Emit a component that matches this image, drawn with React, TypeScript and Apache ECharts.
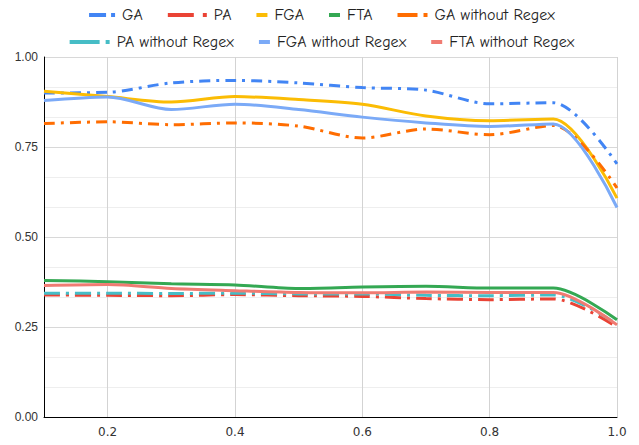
import React, { useEffect, useRef } from 'react';
import * as echarts from 'echarts';

const xValues = [0.1, 0.2, 0.3, 0.4, 0.5, 0.6, 0.7, 0.8, 0.9, 1.0];

const seriesNames = [
  'GA',
  'PA',
  'FGA',
  'FTA',
  'GA without Regex',
  'PA without Regex',
  'FGA without Regex',
  'FTA without Regex',
];

const gaValues = [0.9, 0.902, 0.928, 0.935, 0.928, 0.915, 0.908, 0.87, 0.873, 0.703];
const paValues = [0.339, 0.338, 0.337, 0.34, 0.337, 0.335, 0.329, 0.326, 0.328, 0.25];
const fgaValues = [0.905, 0.89, 0.875, 0.89, 0.882, 0.869, 0.836, 0.823, 0.828, 0.608];
const ftaValues = [0.379, 0.376, 0.37, 0.367, 0.357, 0.361, 0.363, 0.358, 0.358, 0.27];
const gaNoRegexValues = [0.815, 0.82, 0.812, 0.817, 0.808, 0.775, 0.8, 0.784, 0.81, 0.636];
const paNoRegexValues = [0.344, 0.344, 0.343, 0.344, 0.342, 0.342, 0.338, 0.337, 0.339, 0.258];
const fgaNoRegexValues = [0.879, 0.889, 0.854, 0.869, 0.854, 0.833, 0.817, 0.807, 0.814, 0.582];
const ftaNoRegexValues = [0.365, 0.368, 0.357, 0.351, 0.346, 0.345, 0.347, 0.346, 0.346, 0.256];

const allValues = [
  gaValues,
  paValues,
  fgaValues,
  ftaValues,
  gaNoRegexValues,
  paNoRegexValues,
  fgaNoRegexValues,
  ftaNoRegexValues,
];

// styles
const colors = ['#4285F4', '#EA4335', '#FBBC04', '#34A853', '#FF6D01', '#46BDC6', '#7BAAF7', '#F07B72'];
const dashes: (number[] | null)[] = [
  [11, 6, 3, 6],
  [16, 6, 3, 6],
  null,
  null,
  [11, 6, 3, 6],
  [16, 6, 3, 6],
  null,
  null,
];
// legend icon dims: [dash, gap, dot]
const legendIcons: [number, number, number][] = [
  [17, 5, 4],
  [26, 9, 4],
  [11, 0, 0],
  [11, 0, 0],
  [20, 6, 4],
  [30, 6, 4],
  [11, 0, 0],
  [11, 0, 0],
];

const LEGEND_FONT = "'Comic Sans MS', 'Comic Neue', 'Noto Sans', sans-serif";

export default function App() {
  const ref = useRef<HTMLDivElement>(null);

  useEffect(() => {
    if (!ref.current) return;
    const chart = echarts.init(ref.current, null, { renderer: 'svg' });

    const rich: Record<string, any> = {
      tx: { width: 7, height: 4 },
    };
    legendIcons.forEach((ic, i) => {
      rich['d' + i] = { width: ic[0], height: 4, backgroundColor: colors[i] };
      rich['g' + i] = { width: ic[1], height: 4 };
      rich['p' + i] = { width: ic[2], height: 4, backgroundColor: colors[i] };
    });

    const fmt = (name: string) => {
      const i = seriesNames.indexOf(name);
      const ic = legendIcons[i];
      let s = '{d' + i + '|}';
      if (ic[2] > 0) s += '{g' + i + '|}{p' + i + '|}';
      return s + '{tx|}' + name;
    };

    const legendCommon = {
      left: 'center',
      icon: 'none',
      itemWidth: 0,
      itemHeight: 14,
      itemGap: 20,
      formatter: fmt,
      textStyle: {
        fontFamily: LEGEND_FONT,
        fontSize: 16,
        color: '#222',
        rich,
      },
    };

    const series = seriesNames.map((name, i) => ({
      name,
      type: 'line',
      data: xValues.map((x, j) => [x, allValues[i][j]]),
      smooth: 0.3,
      showSymbol: false,
      symbol: 'none',
      lineStyle: {
        color: colors[i],
        width: 3,
        type: dashes[i] ? dashes[i] : 'solid',
      },
      itemStyle: { color: colors[i] },
      emphasis: { disabled: true },
    }));

    chart.setOption({
      animation: false,
      backgroundColor: '#ffffff',
      legend: [
        { ...legendCommon, data: seriesNames.slice(0, 5), top: 2 },
        { ...legendCommon, data: seriesNames.slice(5), top: 29 },
      ],
      grid: { left: 44, right: 22, top: 57, bottom: 28, containLabel: false },
      xAxis: {
        type: 'value',
        min: 0.1,
        max: 1.0,
        splitNumber: 5,
        axisLine: { show: true, lineStyle: { color: '#000', width: 1 } },
        axisTick: { show: false },
        axisLabel: {
          showMinLabel: false,
          margin: 9,
          fontSize: 12,
          fontFamily: "'DejaVu Sans', sans-serif",
          color: '#333',
          formatter: (v: number) => v.toFixed(1),
        },
        splitLine: { show: true, lineStyle: { color: '#d3d3d3', width: 1 } },
      },
      yAxis: {
        type: 'value',
        min: 0,
        max: 1,
        interval: 0.25,
        axisLine: { show: true, lineStyle: { color: '#000', width: 1 } },
        axisTick: { show: false },
        axisLabel: {
          margin: 6,
          fontSize: 12,
          fontFamily: "'Liberation Sans', Arial, sans-serif",
          color: '#333',
          formatter: (v: number) => v.toFixed(2),
        },
        splitLine: { show: true, lineStyle: { color: '#d8d8d8', width: 1 } },
        minorTick: { show: false, splitNumber: 3 },
        minorSplitLine: { show: true, lineStyle: { color: '#eeeeee', width: 1 } },
      },
      series,
    });

    return () => chart.dispose();
  }, []);

  return (
    <div
      ref={ref}
      style={{ position: 'fixed', left: 0, top: 0, width: 639, height: 445, background: '#fff' }}
    />
  );
}
